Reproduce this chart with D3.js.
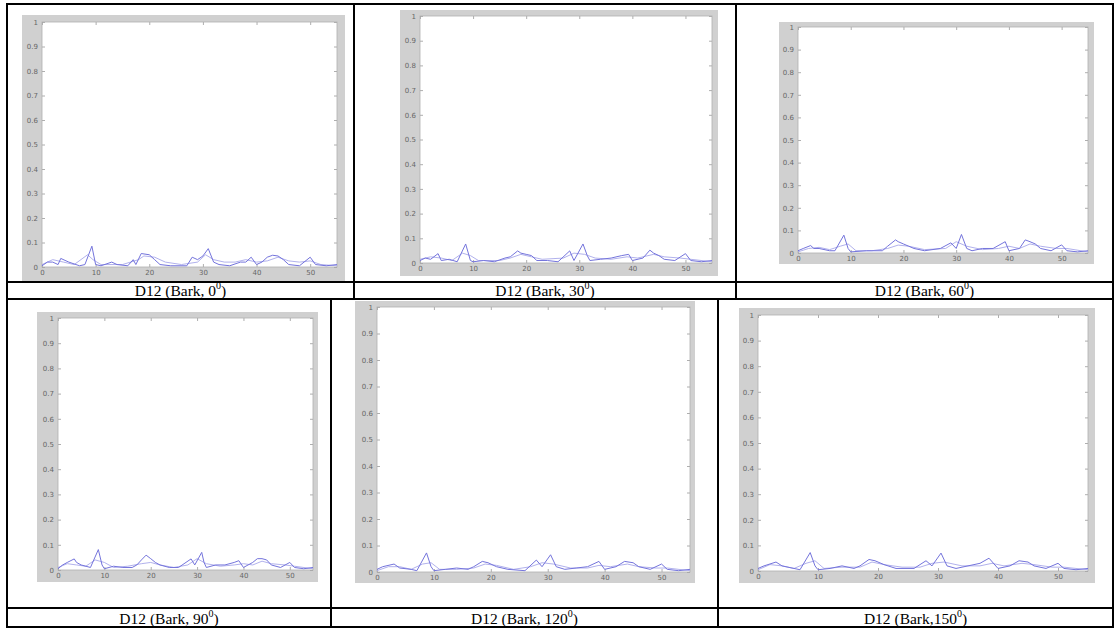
<!DOCTYPE html>
<html><head><meta charset="utf-8">
<script src="https://cdn.jsdelivr.net/npm/d3@7"></script>
<style>body{margin:0;background:#fff}svg{display:block}</style>
</head><body>
<svg id="c" width="1120" height="630"></svg>
<script>
// ---------- data ----------
const yTicks = [0,0.1,0.2,0.3,0.4,0.5,0.6,0.7,0.8,0.9,1];
const yTickLabels = ["0","0.1","0.2","0.3","0.4","0.5","0.6","0.7","0.8","0.9","1"];
const xTicks = [0,10,20,30,40,50];
const xTickLabels = ["0","10","20","30","40","50"];
const xDomain = [0,55];
const yDomain = [0,1];

const captionBase = ["D12 (Bark, ","D12 (Bark, ","D12 (Bark, ","D12 (Bark, ","D12 (Bark, ","D12 (Bark,"];
const captionAngle = ["0","30","60","90","120","150"];
const captionSup = "0";

const p0a = [[0,0.005],[1,0.02],[2,0.02],[3,0.01],[3.5,0.035],[5,0.02],[7,0.005],[8,0.01],[9.3,0.085],[10,0.01],[11,0.005],[13,0.02],[14,0.01],[16,0.005],[17,0.03],[17.5,0.01],[18.5,0.055],[20,0.05],[21,0.03],[22,0.01],[24,0.005],[27,0.005],[28,0.04],[29,0.03],[30,0.045],[31,0.075],[32,0.02],[33,0.01],[35,0.005],[37,0.02],[38,0.02],[39,0.04],[40,0.01],[41,0.02],[42,0.04],[43,0.048],[44,0.045],[45,0.03],[46,0.01],[48,0.005],[50,0.04],[51,0.01],[53,0.005],[55,0.01]];
const p0b = [[0,0.01],[2,0.03],[4,0.02],[6,0.01],[8.5,0.05],[9.5,0.03],[11,0.01],[15,0.01],[18,0.03],[19,0.045],[21,0.04],[23,0.02],[26,0.01],[29,0.02],[30.5,0.05],[32,0.03],[34,0.02],[36,0.02],[38,0.03],[40,0.02],[42,0.025],[44,0.04],[46,0.025],[48,0.02],[50,0.025],[52,0.01],[55,0.005]];

const p30a = [[0,0.01],[1,0.02],[2,0.015],[3.4,0.038],[4,0.01],[5.5,0.015],[7,0.005],[8.6,0.077],[9.5,0.01],[10,0.005],[12,0.01],[14,0.005],[16,0.02],[17,0.025],[18.4,0.049],[19,0.04],[20,0.035],[21,0.03],[22,0.01],[24,0.01],[26,0.005],[28.2,0.049],[29,0.01],[30.7,0.077],[31.5,0.03],[32,0.01],[34,0.015],[36,0.02],[38,0.03],[39.3,0.035],[40,0.01],[42,0.02],[43.3,0.052],[44,0.04],[45,0.03],[46,0.015],[48,0.01],[50,0.038],[51,0.01],[53,0.005],[55,0.01]];
const p30b = [[0,0.015],[2,0.025],[4,0.02],[6,0.01],[8,0.04],[9.5,0.03],[11,0.01],[15,0.01],[17,0.02],[19,0.035],[21,0.025],[23,0.015],[27,0.02],[29,0.04],[31,0.035],[33,0.02],[36,0.015],[39,0.025],[41,0.02],[44,0.035],[46,0.025],[49,0.02],[51,0.015],[55,0.005]];

const p60a = [[0,0.01],[1,0.02],[2.4,0.033],[3,0.02],[4,0.02],[6,0.01],[7,0.01],[8.7,0.079],[9.5,0.02],[10,0.005],[13,0.01],[16,0.01],[17,0.03],[18.5,0.058],[19,0.05],[20,0.04],[21,0.03],[22,0.02],[24,0.01],[27,0.02],[29,0.045],[30,0.02],[31,0.082],[32,0.02],[33,0.01],[35,0.02],[37,0.02],[39.3,0.05],[40,0.01],[42,0.02],[43.1,0.058],[44,0.05],[45,0.04],[46,0.02],[48,0.01],[50,0.036],[51,0.01],[53,0.005],[55,0.01]];
const p60b = [[0,0.005],[2,0.02],[4,0.025],[6,0.015],[8,0.03],[9.5,0.04],[11,0.01],[14,0.01],[17,0.02],[19,0.035],[21,0.03],[24,0.015],[28,0.02],[30,0.05],[32,0.03],[35,0.015],[38,0.02],[40,0.03],[42,0.02],[44,0.04],[46,0.03],[49,0.02],[51,0.02],[55,0.005]];

const p90a = [[0,0.005],[1,0.02],[2,0.03],[3.5,0.044],[4,0.03],[5,0.02],[7,0.01],[8.7,0.081],[9.5,0.02],[10,0.005],[12,0.015],[14,0.01],[16,0.01],[17,0.02],[18,0.04],[19,0.059],[20,0.045],[21,0.03],[22,0.02],[24,0.01],[26,0.01],[28.7,0.044],[29.5,0.02],[31,0.07],[31.5,0.03],[32,0.01],[34,0.02],[36,0.02],[38,0.03],[39,0.037],[40,0.01],[42,0.03],[43,0.045],[44,0.045],[45,0.04],[46,0.02],[48,0.01],[50,0.03],[51,0.01],[53,0.005],[55,0.01]];
const p90b = [[0,0.01],[2,0.025],[4,0.02],[6,0.015],[8,0.04],[10,0.03],[12,0.01],[15,0.015],[18,0.025],[20,0.03],[22,0.02],[25,0.01],[28,0.02],[30,0.045],[32,0.025],[35,0.015],[38,0.02],[40,0.025],[42,0.02],[44,0.035],[46,0.025],[49,0.02],[51,0.015],[55,0.005]];

const p120a = [[0,0.01],[1,0.02],[3,0.03],[4,0.015],[6,0.01],[7,0.005],[8.7,0.072],[9.5,0.02],[10,0.005],[12,0.01],[14,0.015],[16,0.01],[17,0.02],[18.5,0.04],[19.5,0.035],[21,0.02],[23,0.01],[26,0.005],[28,0.045],[29,0.02],[30.5,0.065],[31.5,0.02],[33,0.01],[35,0.015],[37,0.02],[39,0.04],[40,0.01],[42,0.02],[43.5,0.04],[45,0.035],[46,0.02],[48,0.01],[50,0.03],[51,0.01],[53,0.005],[55,0.01]];
const p120b = [[0,0.005],[2,0.02],[4,0.02],[6,0.01],[8,0.03],[9.5,0.035],[11,0.01],[14,0.01],[17,0.015],[19,0.03],[21,0.025],[24,0.01],[27,0.02],[29,0.035],[31,0.03],[34,0.015],[37,0.015],[39,0.025],[41,0.02],[44,0.03],[46,0.02],[49,0.015],[51,0.015],[55,0.005]];

const p150a = [[0,0.01],[1,0.02],[3,0.035],[4,0.02],[6,0.01],[7,0.005],[8.7,0.072],[9.5,0.02],[10,0.005],[12,0.01],[14,0.02],[16,0.01],[17,0.02],[18.5,0.045],[19.5,0.04],[21,0.025],[23,0.01],[26,0.01],[28,0.04],[29,0.02],[30.5,0.07],[31.5,0.02],[33,0.01],[35,0.02],[37,0.03],[38.5,0.05],[40,0.01],[42,0.02],[43.5,0.04],[45,0.035],[46,0.02],[48,0.01],[50,0.03],[51,0.01],[53,0.005],[55,0.01]];
const p150b = [[0,0.005],[2,0.025],[4,0.02],[6,0.01],[8,0.03],[9.5,0.04],[11,0.01],[14,0.015],[17,0.015],[19,0.035],[21,0.025],[24,0.015],[27,0.015],[29,0.03],[31,0.035],[34,0.02],[37,0.02],[39,0.03],[41,0.02],[44,0.03],[46,0.025],[49,0.015],[51,0.015],[55,0.005]];

const seriesA = [p0a,p30a,p60a,p90a,p120a,p150a];
const seriesB = [p0b,p30b,p60b,p90b,p120b,p150b];

// ---------- layout ----------
const T = {left:7, right:1113, top:4, bottom:627, row1:282, cap1:299, row2:608,
  div1:[354,736], div2:[331,718]};
const L = [
  {fig:[22,15,345,281], ax:[42,22,337,267]},
  {fig:[400,10,718,276], ax:[420,16,712,263]},
  {fig:[779,22,1094,264], ax:[798,27,1088,253]},
  {fig:[37,312,318,582], ax:[58,318,313,570]},
  {fig:[355,301,695,583], ax:[377,307,690,572]},
  {fig:[739,308,1095,583], ax:[758,315,1088,571]}
];
const capCells = [
  [T.left,T.div1[0],T.row1,T.cap1],[T.div1[0],T.div1[1],T.row1,T.cap1],[T.div1[1],T.right,T.row1,T.cap1],
  [T.left,T.div2[0],T.row2,T.bottom],[T.div2[0],T.div2[1],T.row2,T.bottom],[T.div2[1],T.right,T.row2,T.bottom]
];

const svg = d3.select("#c");
svg.append("rect").attr("width",1120).attr("height",630).attr("fill","#fff");

L.forEach((p,i)=>{
  const [fx0,fy0,fx1,fy1] = p.fig, [ax0,ay0,ax1,ay1] = p.ax;
  svg.append("rect").attr("x",fx0).attr("y",fy0).attr("width",fx1-fx0).attr("height",fy1-fy0).attr("fill","#d0d0d0");
  svg.append("rect").attr("x",ax0).attr("y",ay0).attr("width",ax1-ax0).attr("height",ay1-ay0).attr("fill","#fff");
  const x = d3.scaleLinear().domain(xDomain).range([ax0,ax1]);
  const y = d3.scaleLinear().domain(yDomain).range([ay1,ay0]);
  const g = svg.append("g");
  const style = sel => {
    sel.select(".domain").remove();
    sel.selectAll("line").attr("stroke","#999").attr("stroke-width",0.8);
    sel.selectAll("text").attr("fill","#666").attr("font-family","DejaVu Sans, sans-serif").attr("font-size",7);
  };
  g.append("g").attr("transform",`translate(${ax0},0)`)
    .call(d3.axisLeft(y).tickValues(yTicks).tickFormat((d,k)=>yTickLabels[k]).tickSizeInner(-3).tickSizeOuter(0).tickPadding(4)).call(style);
  g.append("g").attr("transform",`translate(${ax1},0)`)
    .call(d3.axisRight(y).tickValues(yTicks).tickFormat("").tickSizeInner(-3).tickSizeOuter(0)).call(style);
  g.append("g").attr("transform",`translate(0,${ay1})`)
    .call(d3.axisBottom(x).tickValues(xTicks).tickFormat((d,k)=>xTickLabels[k]).tickSizeInner(-3).tickSizeOuter(0).tickPadding(3)).call(style);
  g.append("g").attr("transform",`translate(0,${ay0})`)
    .call(d3.axisTop(x).tickValues(xTicks).tickFormat("").tickSizeInner(-3).tickSizeOuter(0)).call(style);
  svg.append("rect").attr("x",ax0).attr("y",ay0).attr("width",ax1-ax0).attr("height",ay1-ay0)
    .attr("fill","none").attr("stroke","#b0b0b0").attr("stroke-width",0.8);
  const line = d3.line().x(d=>x(d[0])).y(d=>y(d[1]));
  svg.append("path").datum(seriesB[i]).attr("d",line).attr("fill","none").attr("stroke","#a8a8ea").attr("stroke-width",0.9);
  svg.append("path").datum(seriesA[i]).attr("d",line).attr("fill","none").attr("stroke","#7474dc").attr("stroke-width",1);
});

// table
const tl = svg.append("g").attr("stroke","#000").attr("stroke-width",2);
const hl = (x0,x1,yy)=>tl.append("line").attr("x1",x0).attr("x2",x1).attr("y1",yy).attr("y2",yy);
const vl = (xx,y0,y1)=>tl.append("line").attr("x1",xx).attr("x2",xx).attr("y1",y0).attr("y2",y1);
hl(T.left-1,T.right+1,T.top); hl(T.left,T.right,T.row1); hl(T.left,T.right,T.cap1); hl(T.left,T.right,T.row2); hl(T.left-1,T.right+1,T.bottom);
vl(T.left,T.top,T.bottom); vl(T.right,T.top,T.bottom);
T.div1.forEach(d=>vl(d,T.top,T.cap1)); T.div2.forEach(d=>vl(d,T.cap1,T.bottom));

capCells.forEach((c,i)=>{
  const t = svg.append("text").attr("x",(c[0]+c[1])/2).attr("y",c[3]-3.5)
    .attr("text-anchor","middle").attr("font-family","Liberation Serif, Times New Roman, serif").attr("font-size",15.5).attr("fill","#000");
  t.append("tspan").text(captionBase[i]+captionAngle[i]);
  t.append("tspan").attr("font-size",10).attr("dy",-6.5).text(captionSup);
  t.append("tspan").attr("dy",6.5).text(")");
});
</script>
</body></html>
